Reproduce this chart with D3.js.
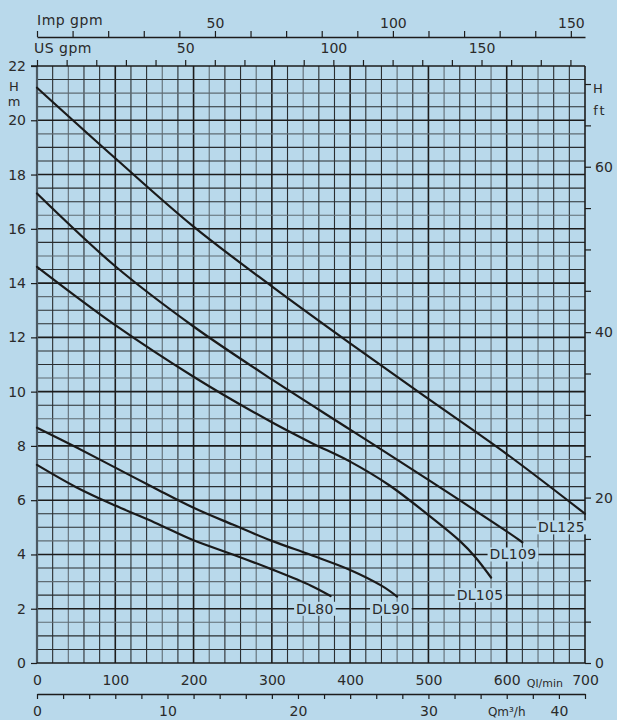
<!DOCTYPE html>
<html><head><meta charset="utf-8">
<script src="https://cdn.jsdelivr.net/npm/d3@7"></script>
<style>
html,body{margin:0;padding:0;background:#b9d9eb;}
svg{display:block;}
text{font-family:"DejaVu Sans",sans-serif;fill:#2a2a2a;}
</style></head>
<body>
<script>
// ---- data (Q in l/min, H in m) ----
const seriesNames = ["DL125","DL109","DL105","DL90","DL80"];
const dl125Q = [0,100,200,300,400,500,600,700];
const dl125H = [21.2,18.6,16.08,13.88,11.78,9.73,7.7,5.5];
const dl109Q = [0,100,200,300,400,500,600,620];
const dl109H = [17.3,14.62,12.4,10.45,8.6,6.75,4.85,4.45];
const dl105Q = [0,100,200,300,350,400,450,500,540,560,580];
const dl105H = [14.6,12.45,10.55,8.87,8.12,7.42,6.55,5.45,4.5,3.9,3.15];
const dl90Q  = [0,50,100,150,200,250,300,350,400,440,460];
const dl90H  = [8.67,7.95,7.2,6.45,5.72,5.1,4.5,3.98,3.43,2.85,2.45];
const dl80Q  = [0,50,100,150,200,250,300,350,375];
const dl80H  = [7.3,6.48,5.8,5.18,4.52,4.0,3.45,2.85,2.47];
const labelQ = [670,608,566,452,355];
const labelH = [5.0,4.0,2.5,2.0,2.0];

const qTicks = [0,100,200,300,400,500,600,700];
const hTicks = [0,2,4,6,8,10,12,14,16,18,20,22];
const ftLabels = [0,20,40,60];
const impLabels = [50,100,150];
const usLabels = [50,100,150];
const m3Labels = [0,10,20,30,40];

const W = 617, H = 720;
const svg = d3.select("body").append("svg").attr("width",W).attr("height",H);
svg.append("rect").attr("width",W).attr("height",H).attr("fill","#b9d9eb");

const x = d3.scaleLinear([0,700],[37,585]);
const y = d3.scaleLinear([0,22],[663,66]);
const xImp = d3.scaleLinear([0,700*0.219969],[37,585]);
const xUs = d3.scaleLinear([0,700/3.78541],[37,585]);
const xM3 = d3.scaleLinear([0,42],[37,585]);
const yFt = d3.scaleLinear([0,22/0.3048],[663,66]);

// ---- grid ----
const g = svg.append("g");
d3.range(20,700,20).forEach((q,i)=>{
  const major = q%100===0;
  g.append("line").attr("x1",x(q)).attr("x2",x(q)).attr("y1",y(0)).attr("y2",y(22))
   .attr("stroke", major?"#1c1c1c":(i%3===1?"#5f6b73":"#2a2e31"))
   .attr("stroke-width", major?1.6:1.1);
});
d3.range(0.5,22,0.5).forEach((h,i)=>{
  const major = Math.abs(h%2)<1e-9;
  g.append("line").attr("x1",x(0)).attr("x2",x(700)).attr("y1",y(h)).attr("y2",y(h))
   .attr("stroke", major?"#1c1c1c":(i%3===2?"#5f6b73":"#2a2e31"))
   .attr("stroke-width", major?1.6:1.1);
});
// frame
g.append("line").attr("x1",x(0)).attr("x2",x(0)).attr("y1",y(0)).attr("y2",y(22)).attr("stroke","#4c5962").attr("stroke-width",2.2);
g.append("line").attr("x1",x(700)).attr("x2",x(700)).attr("y1",y(0)).attr("y2",y(22)).attr("stroke","#1c1c1c").attr("stroke-width",1.6);
g.append("line").attr("x1",x(0)-6).attr("x2",x(700)).attr("y1",y(22)).attr("y2",y(22)).attr("stroke","#1c1c1c").attr("stroke-width",1.6);
g.append("line").attr("x1",x(0)).attr("x2",x(700)).attr("y1",y(0)).attr("y2",y(0)).attr("stroke","#1c1c1c").attr("stroke-width",1.6);

function styleAxis(sel){
  sel.selectAll(".domain").attr("stroke","#1c1c1c").attr("stroke-width",1.4);
  sel.selectAll(".tick line").attr("stroke","#1c1c1c").attr("stroke-width",1.2);
  sel.selectAll("text").attr("font-size",14).attr("fill","#2a2a2a").attr("font-family","DejaVu Sans, sans-serif");
}

// ---- left axis (m) ----
const ax = svg.append("g").attr("transform",`translate(${x(0)},0)`)
  .call(d3.axisLeft(y).tickValues(hTicks).tickSize(6).tickSizeOuter(0).tickPadding(5));
styleAxis(ax); ax.select(".domain").remove();
svg.append("text").attr("x",14).attr("y",91).attr("text-anchor","middle").attr("font-size",13).text("H");
svg.append("text").attr("x",14).attr("y",106).attr("text-anchor","middle").attr("font-size",13).text("m");

// ---- right axis (ft) ----
const ar = svg.append("g").attr("transform",`translate(${x(700)},0)`)
  .call(d3.axisRight(yFt).tickValues(d3.range(0,71,5)).tickSize(6).tickSizeOuter(0).tickPadding(4)
    .tickFormat(d=>ftLabels.includes(d)?d:""));
styleAxis(ar); ar.select(".domain").remove();
svg.append("text").attr("x",598).attr("y",93).attr("text-anchor","middle").attr("font-size",13).text("H");
svg.append("text").attr("x",600).attr("y",115).attr("text-anchor","middle").attr("font-size",13).attr("letter-spacing",2).text("ft");

// ---- top axes ----
const aImp = svg.append("g").attr("transform","translate(0,37)")
  .call(d3.axisTop(xImp).tickValues(d3.range(0,151,10)).tickSize(6).tickSizeOuter(0).tickPadding(3)
    .tickFormat(d=>impLabels.includes(d)?d:""));
styleAxis(aImp);
svg.append("text").attr("x",37).attr("y",25).attr("font-size",14).attr("letter-spacing",0.5).text("Imp gpm");

const aUs = svg.append("g").attr("transform",`translate(0,${y(22)})`)
  .call(d3.axisTop(xUs).tickValues(d3.range(0,181,10)).tickSize(6).tickSizeOuter(0).tickPadding(7)
    .tickFormat(d=>usLabels.includes(d)?d:""));
styleAxis(aUs); aUs.select(".domain").remove();
svg.append("text").attr("x",34).attr("y",53).attr("font-size",14).attr("letter-spacing",0.5).text("US gpm");

// ---- bottom axes ----
const aQ = svg.append("g").attr("transform",`translate(0,${y(0)})`)
  .call(d3.axisBottom(x).tickValues(qTicks).tickSize(0).tickPadding(12));
styleAxis(aQ); aQ.select(".domain").remove();
svg.append("text").attr("x",x(650)-1).attr("y",y(0)+24).attr("text-anchor","middle").attr("font-size",11).attr("font-family","DejaVu Sans Condensed, DejaVu Sans, sans-serif").text("Ql/min");

const aM = svg.append("g").attr("transform","translate(0,694)")
  .call(d3.axisBottom(xM3).tickValues(d3.range(0,43,2)).tickSize(5).tickSizeOuter(0).tickPadding(7)
    .tickFormat(d=>m3Labels.includes(d)?d:""));
styleAxis(aM);
svg.append("text").attr("x",xM3(36)).attr("y",716).attr("text-anchor","middle").attr("font-size",12).text("Qm³/h");

// ---- curves ----
const line = d3.line().x(d=>x(d[0])).y(d=>y(d[1])).curve(d3.curveCatmullRom.alpha(0.5));
const qs = [dl125Q,dl109Q,dl105Q,dl90Q,dl80Q];
const hs = [dl125H,dl109H,dl105H,dl90H,dl80H];
qs.forEach((q,i)=>{
  svg.append("path").datum(q.map((v,j)=>[v,hs[i][j]])).attr("d",line)
    .attr("fill","none").attr("stroke","#1a1a1a").attr("stroke-width",2.2).attr("stroke-linecap","round");
});

// ---- curve labels ----
seriesNames.forEach((n,i)=>{
  const cx = x(labelQ[i]), cy = y(labelH[i]);
  const t = svg.append("text").attr("x",cx).attr("y",cy).attr("dy","0.36em").attr("text-anchor","middle")
    .attr("font-size",14).attr("letter-spacing",0.3).text(n);
  const bb = t.node().getBBox();
  svg.insert("rect", function(){return t.node();}).attr("x",bb.x-2).attr("y",bb.y+1).attr("width",bb.width+4).attr("height",bb.height-2).attr("fill","#b9d9eb");
});
</script>
</body></html>
